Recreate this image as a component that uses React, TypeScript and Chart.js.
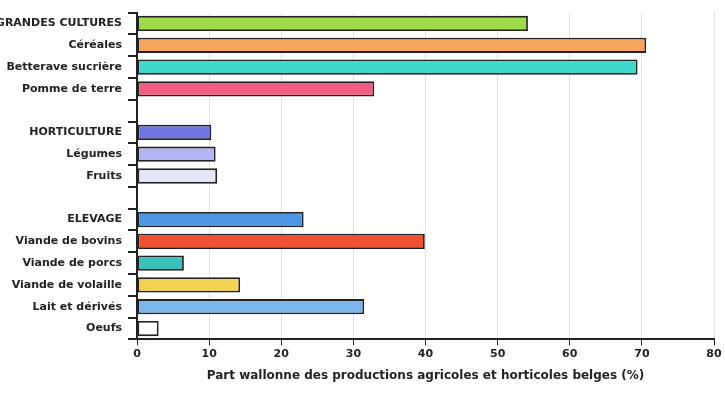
import React, { useEffect, useRef } from "react";
import { Chart, registerables } from "chart.js";

Chart.register(...registerables);

const categories = [
  "GRANDES CULTURES",
  "Céréales",
  "Betterave sucrière",
  "Pomme de terre",
  "",
  "HORTICULTURE",
  "Légumes",
  "Fruits",
  "",
  "ELEVAGE",
  "Viande de bovins",
  "Viande de porcs",
  "Viande de volaille",
  "Lait et dérivés",
  "Oeufs",
];

const values = [54.2, 70.6, 69.4, 32.9, null, 10.3, 10.9, 11.1, null, 23.1, 39.9, 6.5, 14.3, 31.5, 3.0];

const colors = [
  "#9fda48",
  "#f7a45f",
  "#3ed9cc",
  "#f05f82",
  "#ffffff",
  "#7176e6",
  "#b4b5f4",
  "#e6e6fa",
  "#ffffff",
  "#4b97e3",
  "#f05034",
  "#39c0bb",
  "#f2d153",
  "#7bb5ec",
  "#ffffff",
];

const xTitle = "Part wallonne des productions agricoles et horticoles belges (%)";

export default function App() {
  const ref = useRef<HTMLCanvasElement>(null);
  useEffect(() => {
    const font = { family: "DejaVu Sans", size: 11, weight: "bold" as const };
    const chart = new Chart(ref.current!, {
      type: "bar",
      data: {
        labels: categories,
        datasets: [
          {
            data: values as any,
            backgroundColor: colors,
            borderColor: "#222222",
            borderWidth: 1.8,
            borderSkipped: false,
            barPercentage: 0.7,
            categoryPercentage: 1,
          },
        ],
      },
      options: {
        indexAxis: "y",
        animation: false,
        responsive: false,
        layout: { padding: { top: 9, right: 11, left: 0, bottom: 17 } },
        plugins: { legend: { display: false }, tooltip: { enabled: false } },
        scales: {
          x: {
            min: 0,
            max: 80,
            ticks: { stepSize: 10, color: "#222222", font, padding: 2 },
            grid: {
              color: "#e3e3e3",
              tickColor: "#222222",
              tickLength: 6,
              lineWidth: 1,
            },
            border: { display: true, color: "#222222", width: 2 },
            title: {
              display: true,
              text: xTitle,
              color: "#222222",
              font: { family: "DejaVu Sans", size: 12, weight: "bold" },
              padding: { top: 6, bottom: 0 },
            },
          },
          y: {
            afterFit: (scale: any) => {
              scale.width = 137;
            },
            ticks: { color: "#222222", font, padding: 6, autoSkip: false },
            grid: {
              offset: true,
              drawOnChartArea: false,
              tickColor: "#222222",
              tickLength: 9,
              lineWidth: 2,
            },
            border: { display: true, color: "#222222", width: 2 },
          },
        },
      },
    });
    return () => chart.destroy();
  }, []);
  return (
    <div style={{ position: "fixed", left: 0, top: 0, width: 725, height: 400, background: "#fff" }}>
      <canvas ref={ref} width={725} height={400} style={{ width: 725, height: 400 }} />
    </div>
  );
}
